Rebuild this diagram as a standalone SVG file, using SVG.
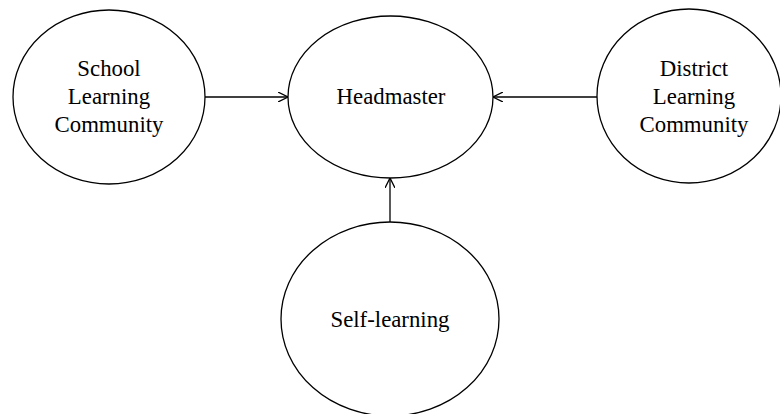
<svg xmlns="http://www.w3.org/2000/svg" width="780" height="414" viewBox="0 0 780 414">
<style>
.n{fill:#fff;stroke:#000;stroke-width:1.3}
.t{font-family:"Liberation Serif","Times New Roman",serif;font-size:22.8px;fill:#000;text-anchor:middle}
.c{stroke:#000;stroke-width:1.3;fill:none;marker-end:url(#a)}
</style>
<defs>
<marker id="a" viewBox="0 0 10 10" refX="10" refY="5" markerWidth="10" markerHeight="10" markerUnits="userSpaceOnUse" orient="auto">
<path d="M0,0 L10,5 L0,10" fill="none" stroke="#000" stroke-width="1.3"/>
</marker>
</defs>
<rect width="780" height="414" fill="#fff"/>
<g id="connectors">
<line class="c" x1="205" y1="97" x2="288" y2="97"/>
<line class="c" x1="597" y1="97" x2="493" y2="97"/>
<line class="c" x1="390" y1="222" x2="390" y2="178"/>
</g>
<g id="school">
<ellipse class="n" cx="109" cy="97" rx="96" ry="87"/>
<text class="t" x="109" y="76">School</text>
<text class="t" x="109" y="104">Learning</text>
<text class="t" x="109" y="132">Community</text>
</g>
<g id="headmaster">
<ellipse class="n" cx="390.5" cy="97" rx="102.5" ry="81"/>
<text class="t" x="391" y="104">Headmaster</text>
</g>
<g id="district">
<ellipse class="n" cx="689" cy="96" rx="92" ry="87"/>
<text class="t" x="694" y="76">District</text>
<text class="t" x="694" y="104">Learning</text>
<text class="t" x="694" y="132">Community</text>
</g>
<g id="selflearning">
<ellipse class="n" cx="390" cy="319" rx="109" ry="97"/>
<text class="t" x="390" y="327">Self-learning</text>
</g>
</svg>
